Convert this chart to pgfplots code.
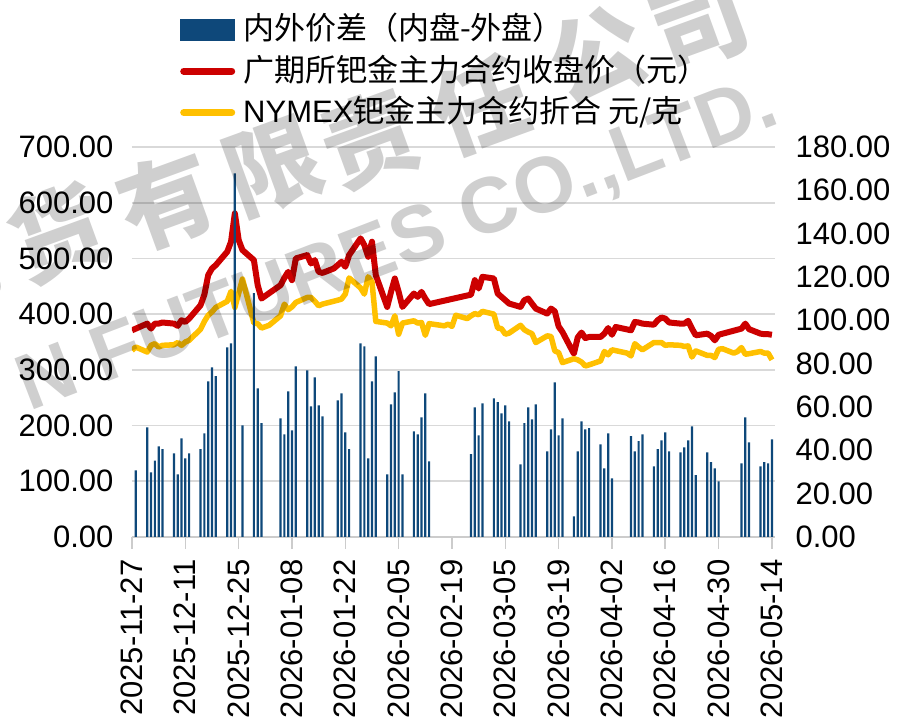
\documentclass[border=0pt]{standalone}
\usepackage{pgfplots}
\pgfplotsset{compat=1.18}
\usepackage{fontspec}
\setmainfont{Liberation Sans}
\newfontfamily\cjk{Noto Sans CJK SC}
\definecolor{barblue}{RGB}{14,72,122}
\definecolor{pdred}{RGB}{204,0,0}
\definecolor{pdyellow}{RGB}{255,192,0}
\definecolor{gridgray}{RGB}{217,217,217}
\newcommand\fs{\fontsize{31}{37}\selectfont}

\begin{document}
\begin{tikzpicture}
\pgfplotsset{
  base/.style={
    scale only axis, width=643pt, height=390pt,
    xmin=0, xmax=168.8,
    /pgf/number format/assume math mode=true,
    tick label style={font=\fs},
    yticklabel style={/pgf/number format/fixed, /pgf/number format/fixed zerofill,
      /pgf/number format/precision=2},
    scaled y ticks=false,
  },
}
% left axis: the two price lines
\begin{axis}[base,
  ymin=0, ymax=700, ytick={0,100,...,700},
  axis x line*=bottom, axis y line*=left,
  x axis line style={-, draw=gridgray!85!gray, line width=1.6pt},
  y axis line style={draw=none},
  xtick={0,14,...,168},
  xticklabels={2025-11-27,2025-12-11,2025-12-25,2026-01-08,2026-01-22,2026-02-05,2026-02-19,
    2026-03-05,2026-03-19,2026-04-02,2026-04-16,2026-04-30,2026-05-14},
  xticklabel style={rotate=90, anchor=east}, xticklabel shift=7pt,
  yticklabel style={xshift=-3pt},
  tick align=outside, major tick length=12pt,
  xtick style={draw=gridgray!85!gray, line width=1.6pt},
  ytick style={draw=none},
  ymajorgrids, grid style={gridgray, line width=1.6pt},
]
% 广期所钯金主力合约收盘价
\addplot[pdred, line width=6pt, line join=round] coordinates {
 (0,371)(1,374)(4,383)(5,374)(6,383)(7,383)(8,385)(11,383)(12,379)(13,389)(14,386)(15,392)
 (18,416)(19,435)(20,470)(21,482)(22,488)(25,512)(26,530)(27,581)(28,533)(29,515)
 (32,497)(33,452)(34,428)(39,452)(40,465)(41,476)(42,461)(43,500)(46,506)(47,491)(48,497)
 (49,476)(50,474)(53,482)(54,488)(55,494)(56,485)(57,506)(60,536)(61,524)(62,503)(63,530)
 (64,470)(67,413)(68,440)(69,464)(70,440)(71,413)(74,437)(75,431)(76,440)(77,428)(78,418)
 (89,435)(90,461)(91,446)(92,467)(95,464)(96,437)(97,431)(98,425)(99,419)(102,413)(103,425)
 (104,428)(105,419)(106,410)(109,401)(110,410)(111,405)(112,378)(113,368)(116,329)(117,358)
 (118,367)(119,357)(120,359)(123,359)(124,365)(125,375)(126,363)(127,377)(131,371)(132,386)
 (133,385)(134,383)(137,381)(138,389)(139,394)(140,392)(141,385)(144,383)(145,383)(146,388)
 (147,374)(148,362)(151,365)(152,361)(153,353)(154,363)(160,374)(161,383)(162,373)(165,365)
 (166,364)(167,364)(168,363)
};
% NYMEX钯金主力合约折合
\addplot[pdyellow, line width=5.5pt, line join=round] coordinates {
 (0,335)(1,341)(4,332)(5,344)(6,347)(7,341)(8,344)(11,345)(12,349)(13,344)(14,350)(15,353)
 (18,373)(19,387)(20,398)(21,404)(22,412)(25,423)(26,441)(27,412)(29,463)(32,384)(33,383)
 (34,375)(36,380)(39,397)(40,418)(41,408)(42,413)(43,421)(46,430)(47,430)(48,423)(49,415)
 (50,418)(54,425)(55,427)(56,436)(57,465)(60,447)(61,436)(62,467)(63,458)(64,387)(67,384)
 (68,379)(69,397)(70,364)(71,384)(74,388)(75,384)(76,385)(77,362)(78,383)(82,379)(83,382)
 (84,378)(85,398)(88,392)(89,397)(90,401)(91,399)(92,405)(95,400)(96,375)(97,374)(98,364)
 (99,366)(102,380)(103,372)(104,368)(105,365)(106,349)(109,361)(110,360)(111,334)(112,331)
 (113,313)(116,320)(117,318)(118,314)(119,307)(120,309)(123,316)(124,333)(125,327)(126,336)
 (130,330)(131,325)(132,347)(133,341)(134,336)(137,349)(138,349)(139,349)(140,344)(141,345)
 (144,344)(145,342)(146,343)(147,323)(148,334)(151,326)(152,326)(153,322)(154,337)(155,338)
 (158,330)(159,333)(160,340)(161,328)(162,329)(165,333)(166,330)(167,330)(168,318)
};
\end{axis}
% right axis: spread bars
\begin{axis}[base,
  ymin=0, ymax=180, ytick={0,20,...,180},
  axis y line*=right, axis x line=none, xtick=\empty,
  y axis line style={draw=none}, ytick style={draw=none},
  yticklabel style={xshift=17pt},
  legend cell align=left,
  legend style={at={(0.075,1.342)}, anchor=north west, draw=none, fill=none,
    inner sep=0pt, outer sep=0pt, row sep=9.5pt, column sep=8pt,
    font=\fs, nodes={inner sep=0pt, text height=26pt, text depth=6pt}},
]
\addplot[ybar, bar width=2.2pt, fill=barblue, draw=none,
  legend image code/.code={\fill[barblue] (0pt,-11pt) rectangle (55pt,11pt);}] coordinates {
 (1,30.8)(4,50.6)(5,29.8)(6,35.2)(7,41.8)(8,40.5)(11,38.6)(12,28.9)(13,45.5)(14,36.3)(15,38.6)
 (18,40.5)(19,47.8)(20,71.8)(21,78.3)(22,74.2)(25,87.5)(26,89.4)(27,167.8)(29,51.5)
 (32,112.5)(33,68.6)(34,52.5)(39,54.8)(40,47.4)(41,67.2)(42,49.2)(43,78.8)(46,76.9)(47,60.3)
 (48,73.7)(49,60.8)(50,55.7)(54,63.1)(55,66.3)(56,48.3)(57,40.5)(60,89.4)(61,88.0)(62,36.3)
 (63,71.8)(64,83.4)(67,28.9)(68,61.2)(69,66.8)(70,76.5)(71,28.9)(74,48.8)(75,47.4)(76,55.2)
 (77,66.3)(78,34.9)(89,38.2)(90,59.8)(91,46.9)(92,61.7)(95,64.0)(96,62.2)(97,57.1)(98,60.8)
 (99,53.4)(102,33.5)(103,52.5)(104,59.8)(105,54.3)(106,61.2)(109,39.5)(110,49.7)(111,71.4)
 (112,46.9)(113,54.8)(116,9.5)(117,39.5)(118,53.4)(119,49.7)(120,50.2)(123,42.8)(124,31.7)
 (125,47.8)(126,27.1)(131,46.5)(132,39.5)(133,44.2)(134,47.4)(137,32.6)(138,40.5)(139,44.6)
 (140,48.3)(141,39.5)(144,39.1)(145,41.4)(146,44.6)(147,51.1)(148,28.5)(151,39.1)(152,34.5)
 (153,31.7)(154,25.7)(160,34.0)(161,55.2)(162,43.7)(165,32.6)(166,34.5)(167,34.0)(168,45.1)
};
\addlegendentry{\cjk 内外价差（内盘-外盘）}
\addlegendimage{draw=none, fill=none, no markers, legend image code/.code={
  \path[draw=none, fill=none] (0pt,-11pt) rectangle (55pt,11pt);
  \draw[draw=pdred, line width=7pt, line cap=round] (3.5pt,0pt) -- (51.5pt,0pt);}}
\addlegendentry{\cjk 广期所钯金主力合约收盘价（元）}
\addlegendimage{draw=none, fill=none, no markers, legend image code/.code={
  \path[draw=none, fill=none] (0pt,-11pt) rectangle (55pt,11pt);
  \draw[draw=pdyellow, line width=7pt, line cap=round] (3.5pt,0pt) -- (51.5pt,0pt);}}
\addlegendentry{NYMEX{\cjk 钯金主力合约折合 元/克}}
\end{axis}

% watermark
\begin{scope}[every node/.style={text=black, text opacity=0.19, rotate=20,
    font=\cjk\bfseries\fontsize{95}{95}\selectfont}]
\node at (-182pt,271pt) {期};
\node at (-74pt,304pt) {货};
\node at (35pt,337pt) {有};
\node at (141pt,370pt) {限};
\node at (238pt,397pt) {责};
\node at (348pt,432pt) {任};
\node at (465pt,482pt) {公};
\node at (568pt,512pt) {司};
\end{scope}
\node[text=black, text opacity=0.19, rotate=21, font=\bfseries\fontsize{79}{79}\selectfont]
  at (266pt,290pt) {N FUTURES CO.,LTD.};

\pgfresetboundingbox
\useasboundingbox (-132pt,-185pt) rectangle (766pt,537pt);
\end{tikzpicture}
\end{document}
